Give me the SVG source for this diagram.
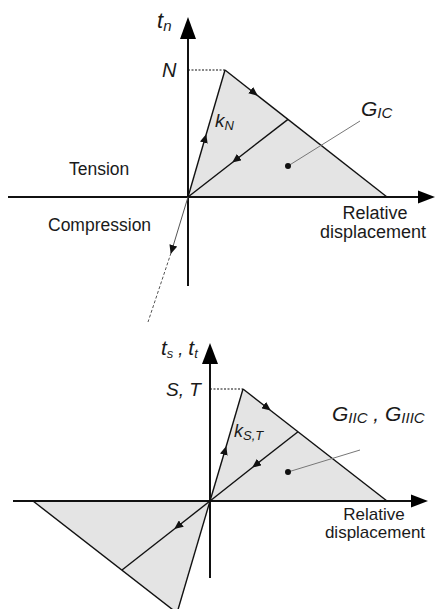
<svg xmlns="http://www.w3.org/2000/svg" width="435" height="609" viewBox="0 0 435 609">
<style>
.ax{stroke:#111;stroke-width:2;fill:none}
.ed{stroke:#111;stroke-width:1.4;fill:none}
.fill{fill:#e4e4e4;stroke:none}
.dot{stroke:#111;stroke-width:1.2;stroke-dasharray:2,1.5;fill:none}
.lead{stroke:#777;stroke-width:1;fill:none}
.t{font-family:"Liberation Sans",Arial,sans-serif;fill:#1a1a1a}
.i{font-style:italic}
</style>
<defs>
<marker id="tri" markerWidth="10" markerHeight="8" refX="8" refY="4" orient="auto" markerUnits="userSpaceOnUse">
<path d="M0,0 L9,4 L0,8 Z" fill="#111"/>
</marker>
</defs>

<g id="top-area">
<polygon class="fill" points="188,197 225,70 387,197"/>
</g>
<g id="bottom-area">
<polygon class="fill" points="210,501 243,389 387,501"/>
<polygon class="fill" points="210,501 177,613 33,501"/>
</g>

<g id="connectors">
<!-- top axes -->
<line class="ax" x1="8" y1="197" x2="420" y2="197"/>
<line class="ax" x1="188" y1="286" x2="188" y2="37"/>
<line class="dot" x1="188" y1="70" x2="225" y2="70"/>
<!-- top triangle edges -->
<line class="ed" x1="188" y1="197" x2="206" y2="135" marker-end="url(#tri)"/>
<line class="ed" x1="206" y1="135" x2="225" y2="70"/>
<line class="ed" x1="225" y1="70" x2="257" y2="95.1" marker-end="url(#tri)"/>
<line class="ed" x1="257" y1="95.1" x2="387" y2="197"/>
<line class="ed" x1="288" y1="119.4" x2="233" y2="162" marker-end="url(#tri)"/>
<line class="ed" x1="233" y1="162" x2="188" y2="197"/>
<!-- compression -->
<line stroke="#555" stroke-width="1" x1="188" y1="197" x2="171" y2="253" marker-end="url(#tri)"/>
<line stroke="#555" stroke-width="1" stroke-dasharray="3,2" x1="171" y1="253" x2="148" y2="322"/>
<line class="lead" x1="360" y1="121" x2="288" y2="166"/>

<!-- bottom axes -->
<line class="ax" x1="13" y1="501" x2="413" y2="501"/>
<line class="ax" x1="210" y1="578" x2="210" y2="362"/>
<line class="dot" x1="210" y1="389" x2="243" y2="389"/>
<line class="ed" x1="210" y1="501" x2="226" y2="447" marker-end="url(#tri)"/>
<line class="ed" x1="226" y1="447" x2="243" y2="389"/>
<line class="ed" x1="243" y1="389" x2="270" y2="410" marker-end="url(#tri)"/>
<line class="ed" x1="270" y1="410" x2="387" y2="501"/>
<line class="ed" x1="298" y1="431.8" x2="253" y2="467" marker-end="url(#tri)"/>
<line class="ed" x1="253" y1="467" x2="210" y2="501"/>
<!-- negative -->
<line class="ed" x1="210" y1="501" x2="177" y2="613"/>
<line class="ed" x1="177" y1="613" x2="33" y2="501"/>
<line class="ed" x1="210" y1="501" x2="175" y2="528.5" marker-end="url(#tri)"/>
<line class="ed" x1="175" y1="528.5" x2="122" y2="570"/>
<line class="lead" x1="360" y1="450" x2="288" y2="472"/>
</g>

<g id="dots">
<circle cx="288" cy="166" r="3" fill="#111"/>
<circle cx="288" cy="472" r="3" fill="#111"/>
</g>

<g id="labels-top">
<text class="t i" x="157" y="28" font-size="22">t<tspan font-size="15" dy="3">n</tspan></text>
<text class="t i" x="162" y="77" font-size="20">N</text>
<text class="t i" x="215" y="127" font-size="19">k<tspan font-size="13" dy="3">N</tspan></text>
<text class="t i" x="361" y="116" font-size="21">G<tspan font-size="15" dy="2">IC</tspan></text>
<text class="t" x="69" y="175" font-size="17.5">Tension</text>
<text class="t" x="48" y="231" font-size="17.5">Compression</text>
<text class="t" x="375" y="219" font-size="18" text-anchor="middle">Relative</text>
<text class="t" x="373" y="238" font-size="18" text-anchor="middle">displacement</text>
</g>

<g id="labels-bottom">
<text class="t i" x="161" y="355" font-size="21">t<tspan font-size="13" dy="3">s</tspan><tspan dy="-3" font-size="18"> , </tspan><tspan>t</tspan><tspan font-size="13" dy="3">t</tspan></text>
<text class="t i" x="166" y="396" font-size="19">S, T</text>
<text class="t i" x="234" y="437" font-size="18">k<tspan font-size="13" dy="3">S,T</tspan></text>
<text class="t i" x="332" y="421" font-size="21">G<tspan font-size="15" dy="2">IIC</tspan><tspan dy="-2"> , G</tspan><tspan font-size="15" dy="2">IIIC</tspan></text>
<text class="t" x="374" y="520" font-size="17" text-anchor="middle">Relative</text>
<text class="t" x="375" y="538" font-size="17" text-anchor="middle">displacement</text>
</g>

<g id="axis-arrowheads">
<polygon points="418,190.5 435,197 418,203.5" fill="#000"/>
<polygon points="180,39 188,17 196,39" fill="#000"/>
<polygon points="411,494.5 428,501 411,507.5" fill="#000"/>
<polygon points="202,364 210,343 218,364" fill="#000"/>
</g>
</svg>
